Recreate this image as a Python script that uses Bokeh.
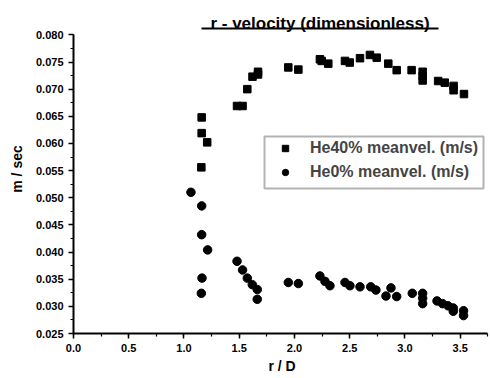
import numpy as np
from bokeh.plotting import figure
from bokeh.models import (Range1d, SingleIntervalTicker, NumeralTickFormatter, Label,
                          BoxAnnotation, Legend, LegendItem)
from bokeh.embed import file_html
from bokeh.resources import INLINE

# He40% meanvel. (m/s)  -- squares
he40_x = [1.16, 1.16, 1.21, 1.157, 1.48, 1.53, 1.573, 1.62, 1.67, 1.67, 1.944, 2.035,
          2.23, 2.246, 2.306, 2.457, 2.50, 2.593, 2.683, 2.744, 2.849, 2.925, 3.06,
          3.16, 3.16, 3.16, 3.30, 3.36, 3.44, 3.44, 3.534]
he40_y = [0.0648, 0.0619, 0.0602, 0.0556, 0.0669, 0.0669, 0.0700, 0.0723, 0.0727, 0.0732,
          0.0740, 0.0736, 0.0755, 0.0752, 0.0747, 0.0752, 0.0749, 0.0757, 0.0763, 0.0758,
          0.0747, 0.0735, 0.0735, 0.0732, 0.0724, 0.0716, 0.0715, 0.0712, 0.0706, 0.0698,
          0.0691]

# He0% meanvel. (m/s)  -- circles
he0_x = [1.063, 1.16, 1.16, 1.214, 1.163, 1.157, 1.48, 1.53, 1.573, 1.618, 1.663, 1.663,
         1.944, 2.035, 2.23, 2.276, 2.321, 2.457, 2.502, 2.593, 2.69, 2.737, 2.828, 2.873,
         2.925, 3.066, 3.16, 3.16, 3.16, 3.29, 3.34, 3.39, 3.437, 3.437, 3.53, 3.53]
he0_y = [0.0510, 0.0485, 0.0432, 0.0404, 0.0352, 0.0324, 0.0383, 0.0367, 0.0352, 0.0340,
         0.0331, 0.0313, 0.0344, 0.0342, 0.0356, 0.0346, 0.0338, 0.0344, 0.0338, 0.0336,
         0.0336, 0.0330, 0.0319, 0.0334, 0.0318, 0.0324, 0.0324, 0.0315, 0.0305, 0.0310,
         0.0305, 0.0301, 0.0297, 0.0291, 0.0292, 0.0283]

title_text = "r - velocity (dimensionless)"
x_label = "r / D"
y_label = "m / sec"
legend_labels = ["He40% meanvel. (m/s)", "He0% meanvel. (m/s)"]
x_bounds = (0.0, 3.75)
y_bounds = (0.025, 0.080)

FONT = "Liberation Sans"

p = figure(width=490, height=378, output_backend="svg", toolbar_location=None,
           x_range=Range1d(0, 3.774), y_range=Range1d(0.025, 0.08559),
           min_border_left=73, min_border_right=0, min_border_top=4, min_border_bottom=45)
p.outline_line_color = None
p.xgrid.visible = False
p.ygrid.visible = False
p.background_fill_color = "white"
p.border_fill_color = "white"

r1 = p.scatter(he40_x, he40_y, marker="square", size=7.5, color="black")
r2 = p.scatter(he0_x, he0_y, marker="circle", size=8.5, color="black")

for ax in (p.xaxis[0], p.yaxis[0]):
    ax.axis_line_width = 2
    ax.axis_line_color = "black"
    ax.major_tick_line_width = 1.5
    ax.minor_tick_line_width = 1.2
    ax.major_tick_in = 0
    ax.major_tick_out = 5
    ax.minor_tick_in = 0
    ax.minor_tick_out = 3
    ax.major_label_text_font = FONT
    ax.major_label_text_font_style = "bold"
    ax.major_label_text_font_size = "11px"
    ax.major_label_text_color = "black"
    ax.axis_label_text_font = FONT
    ax.axis_label_text_font_style = "bold"
    ax.axis_label_text_font_size = "14px"
    ax.axis_label_text_color = "black"

p.xaxis[0].bounds = x_bounds
p.yaxis[0].bounds = y_bounds
p.xaxis[0].ticker = SingleIntervalTicker(interval=0.5, num_minor_ticks=2)
p.yaxis[0].ticker = SingleIntervalTicker(interval=0.005, num_minor_ticks=2)
p.xaxis[0].formatter = NumeralTickFormatter(format="0.0")
p.yaxis[0].formatter = NumeralTickFormatter(format="0.000")
p.xaxis[0].axis_label = x_label
p.yaxis[0].axis_label = y_label
p.xaxis[0].axis_label_standoff = 3
p.yaxis[0].axis_label_standoff = 8

legend = Legend(items=[LegendItem(label=legend_labels[0], renderers=[r1]),
                       LegendItem(label=legend_labels[1], renderers=[r2])],
                location=(191, 152), border_line_color=None,
                label_text_font=FONT, label_text_font_style="bold", label_text_font_size="16px",
                glyph_width=42, glyph_height=16, label_height=19, label_standoff=4, spacing=5,
                padding=5, margin=0, background_fill_color="white", background_fill_alpha=0)
p.add_layout(legend, "center")

legend_box = BoxAnnotation(left=191, right=410, bottom=145, top=197,
                           left_units="screen", right_units="screen",
                           bottom_units="screen", top_units="screen",
                           fill_alpha=0, line_color="black", line_width=2)
p.add_layout(legend_box)

title = Label(x=246.5, y=310, x_units="screen", y_units="screen", text=title_text,
              text_font=FONT, text_font_style="bold", text_font_size="17px",
              text_align="center", text_baseline="alphabetic", text_color="black")
p.add_layout(title)
underline = BoxAnnotation(left=128, right=365, bottom=304, top=306,
                          left_units="screen", right_units="screen",
                          bottom_units="screen", top_units="screen",
                          fill_color="black", fill_alpha=1, line_color=None)
p.add_layout(underline)

open("out.html", "w").write(file_html(p, INLINE))
